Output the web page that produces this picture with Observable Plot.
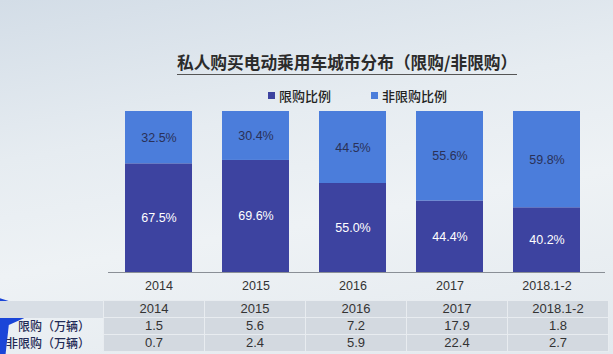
<!DOCTYPE html>
<html>
<head>
<meta charset="utf-8">
<script src="https://cdn.jsdelivr.net/npm/d3@7"></script>
<script src="https://cdn.jsdelivr.net/npm/@observablehq/plot@0.6"></script>
<style>
  html, body { margin: 0; padding: 0; }
  body { width: 613px; height: 354px; overflow: hidden;
    background: linear-gradient(170deg, #d3dde7 0%, #e6ecf1 35%, #eef2f5 60%, #e3e9ee 100%);
    font-family: "Liberation Sans", Arial, "Noto Sans CJK SC", sans-serif; }
  #wrap { position: relative; width: 613px; height: 354px; }
  #title { position: absolute; left: 177px; top: 50px; white-space: nowrap;
    font-family: "Noto Sans CJK SC", sans-serif; font-weight: 700; font-size: 16.7px; color: #2b2b2b; }
  #title span { border-bottom: 1.5px solid #555; }
  #legend { position: absolute; top: 86px; left: 268px; font-family: "Noto Sans CJK SC", sans-serif;
    font-size: 13px; font-weight: 500; color: #222; display: flex; gap: 40px; }
  #legend .sw { display: inline-block; width: 7px; height: 7px; margin-right: 4px; vertical-align: 2px; }
  #chart { position: absolute; left: 0; top: 0; }
  #table { position: absolute; left: 0; top: 300px; border-collapse: collapse; font-size: 13px; color: #333; }
  #table td { height: 16px; padding: 0; text-align: center; line-height: 16px; overflow: hidden; }
  #table td.v { background: #d3d9e0; border: 1px solid #e8ecf0; width: 100px; }
  #table tr.head td.lab { background: #d8dee5; }
  #table td.lab { width: 90px; text-align: right; padding-right: 13px; white-space: nowrap;
    font-family: "Noto Sans CJK SC", sans-serif; font-size: 12px; font-weight: 500; color: #1f2a55; }
  #arrow { position: absolute; left: 0; top: 296px; width: 40px; height: 58px; background: #1a45d8;
    clip-path: polygon(0 4%, 100% 26%, 22% 50%, 14% 100%, 0 100%); }
</style>
</head>
<body>
<div id="wrap">
  <div id="title"><span>私人购买电动乘用车城市分布（限购/非限购）</span></div>
  <div id="legend"></div>
  <div id="chart"></div>
  <div id="arrow"></div>
  <table id="table"></table>
</div>
<script>
const categories = ["2014", "2015", "2016", "2017", "2018.1-2"];
const seriesNames = ["限购比例", "非限购比例"];
const restrictedShare = [67.5, 69.6, 55.0, 44.4, 40.2];
const unrestrictedShare = [32.5, 30.4, 44.5, 55.6, 59.8];
const rowLabels = ["限购（万辆）", "非限购（万辆）"];
const restrictedVolume = ["1.5", "5.6", "7.2", "17.9", "1.8"];
const unrestrictedVolume = ["0.7", "2.4", "5.9", "22.4", "2.7"];
const colors = ["#3d43a0", "#4b7ddb"];

const data = [];
categories.forEach((c, i) => {
  data.push({cat: c, series: seriesNames[0], value: restrictedShare[i]});
  data.push({cat: c, series: seriesNames[1], value: unrestrictedShare[i]});
});

const plot = Plot.plot({
  width: 613,
  height: 300,
  marginTop: 111,
  marginBottom: 28,
  marginLeft: 108,
  marginRight: 8,
  style: {background: "transparent", fontFamily: "Liberation Sans, Arial, sans-serif"},
  x: {domain: categories, range: [108, 596], paddingInner: 0.31, paddingOuter: 0.155, label: null},
  y: {domain: [0, 1], axis: null},
  color: {domain: seriesNames, range: colors},
  marks: [
    Plot.barY(data, Plot.stackY({x: "cat", y: "value", fill: "series", z: "series", order: seriesNames, offset: "normalize"})),
    Plot.text(data, Plot.stackY({
      x: "cat", y: "value", z: "series", order: seriesNames, offset: "normalize",
      text: d => d.value.toFixed(1) + "%",
      fill: d => d.series === seriesNames[0] ? "#ffffff" : "#2a3158",
      fontWeight: d => d.series === seriesNames[0] ? "bold" : "normal",
      fontSize: 12.5
    })),
    Plot.ruleY([0], {stroke: "#8a8f96", strokeWidth: 1}),
    Plot.axisX({tickSize: 0, tickPadding: 9, fontSize: 12.5, color: "#333", label: null})
  ]
});
document.getElementById("chart").appendChild(plot);

const legend = document.getElementById("legend");
seriesNames.forEach((s, i) => {
  const d = document.createElement("div");
  d.innerHTML = `<span class="sw" style="background:${colors[i]}"></span>${s}`;
  legend.appendChild(d);
});

const table = document.getElementById("table");
const rows = [["", categories], [rowLabels[0], restrictedVolume], [rowLabels[1], unrestrictedVolume]];
rows.forEach(([lab, vals], r) => {
  const tr = document.createElement("tr");
  if (r === 0) tr.className = "head";
  const l = document.createElement("td");
  l.className = "lab"; l.textContent = lab;
  tr.appendChild(l);
  vals.forEach(v => {
    const td = document.createElement("td");
    td.className = "v"; td.textContent = v;
    tr.appendChild(td);
  });
  table.appendChild(tr);
});
</script>
</body>
</html>
